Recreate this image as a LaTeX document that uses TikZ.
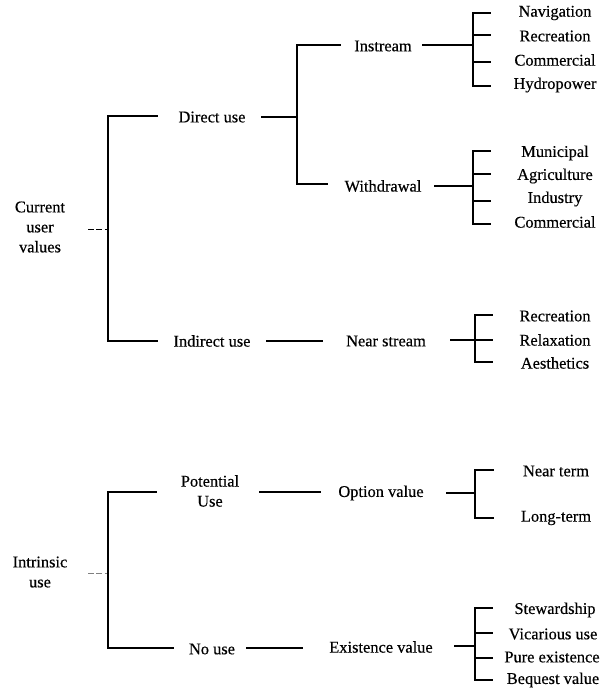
\documentclass[tikz,border=0pt]{standalone}
\usepackage{fontspec}
\setmainfont{Liberation Serif}[FakeBold=0.4]
\begin{document}
\begin{tikzpicture}[x=0.5pt,y=-0.5pt,
  lbl/.style={font=\fontsize{8.2}{10}\selectfont, align=center, inner sep=0pt},
  br/.style={line width=0.9pt, line cap=rect},
  rootline/.style={line width=0.4pt, dash pattern=on 3pt off 1.2pt}]
\useasboundingbox (0,0) rectangle (600,691);

% ---------------- upper tree ----------------
\node[lbl] (cuv) at (40,227) {Current\\user\\values};
\node[lbl] (direct) at (212,117) {Direct use};
\node[lbl] (indirect) at (212,341) {Indirect use};
\node[lbl] (instream) at (383,46) {Instream};
\node[lbl] (withdrawal) at (383,186) {Withdrawal};
\node[lbl] (nearstream) at (386,341) {Near stream};

\node[lbl] (l1) at (555,13) {Navigation};
\node[lbl] (l2) at (555,36) {Recreation};
\node[lbl] (l3) at (555,60) {Commercial};
\node[lbl] (l4) at (555,85) {Hydropower};
\node[lbl] (l5) at (555,153) {Municipal};
\node[lbl] (l6) at (555,176) {Agriculture};
\node[lbl] (l7) at (555,199) {Industry};
\node[lbl] (l8) at (555,222) {Commercial};
\node[lbl] (l9) at (555,316) {Recreation};
\node[lbl] (l10) at (555,340) {Relaxation};
\node[lbl] (l11) at (555,363) {Aesthetics};

% root connector
\coordinate (r1a) at (88,229);
\coordinate (r1b) at (108,229);
\draw[rootline] (r1a) -- (r1b);
% first bracket
\coordinate (c1t) at (108,116);
\coordinate (c1b) at (108,341);
\coordinate (d0) at (157,116);
\coordinate (i0) at (157,341);
\draw[br] (d0) -- (c1t) -- (c1b) -- (i0);
% direct use bracket
\coordinate (d1) at (262,117);
\coordinate (c2m) at (297,117);
\coordinate (c2t) at (297,45);
\coordinate (c2b) at (297,184);
\coordinate (in0) at (340,45);
\coordinate (w0) at (327,184);
\draw[br] (d1) -- (c2m);
\draw[br] (in0) -- (c2t) -- (c2b) -- (w0);
% instream bracket
\coordinate (in1) at (423,45);
\coordinate (c3m) at (473,45);
\coordinate (c3a) at (473,13);
\coordinate (c3d) at (473,86);
\coordinate (t1) at (490,13);
\coordinate (t2) at (490,35);
\coordinate (t3) at (490,62);
\coordinate (t4) at (490,86);
\coordinate (c3b) at (473,35);
\coordinate (c3c) at (473,62);
\draw[br] (in1) -- (c3m);
\draw[br] (t1) -- (c3a) -- (c3d) -- (t4);
\draw[br] (c3b) -- (t2);
\draw[br] (c3c) -- (t3);
% withdrawal bracket
\coordinate (w1) at (435,186);
\coordinate (c4m) at (473,186);
\coordinate (c4a) at (473,151);
\coordinate (c4b) at (473,174);
\coordinate (c4c) at (473,201);
\coordinate (c4d) at (473,224);
\coordinate (t5) at (490,151);
\coordinate (t6) at (490,174);
\coordinate (t7) at (490,201);
\coordinate (t8) at (490,224);
\draw[br] (w1) -- (c4m);
\draw[br] (t5) -- (c4a) -- (c4d) -- (t8);
\draw[br] (c4b) -- (t6);
\draw[br] (c4c) -- (t7);
% indirect / near stream
\coordinate (id1) at (267,341);
\coordinate (ns0) at (322,341);
\coordinate (ns1) at (451,340);
\coordinate (c5m) at (475,340);
\coordinate (c5a) at (475,315);
\coordinate (c5c) at (475,362);
\coordinate (t9) at (492,315);
\coordinate (t10) at (492,340);
\coordinate (t11) at (492,362);
\draw[br] (id1) -- (ns0);
\draw[br] (ns1) -- (c5m) -- (t10);
\draw[br] (t9) -- (c5a) -- (c5c) -- (t11);

% ---------------- lower tree ----------------
\node[lbl] (intr) at (40,572) {Intrinsic\\use};
\node[lbl] (pot) at (210,491) {Potential\\Use};
\node[lbl] (nouse) at (212,649) {No use};
\node[lbl] (option) at (381,493) {Option value};
\node[lbl] (exist) at (381,647) {Existence value};
\node[lbl] (m1) at (556,471) {Near term};
\node[lbl] (m2) at (556,518) {Long-term};
\node[lbl] (m3) at (555,610) {Stewardship};
\node[lbl] (m4) at (553,634) {Vicarious use};
\node[lbl] (m5) at (552,657) {Pure existence};
\node[lbl] (m6) at (553,680) {Bequest value};

\coordinate (r2a) at (88,573);
\coordinate (r2b) at (108,573);
\draw[rootline, gray] (r2a) -- (r2b);
\coordinate (c6t) at (108,492);
\coordinate (c6b) at (108,648);
\coordinate (p0) at (156,492);
\coordinate (n0) at (173,648);
\draw[br] (p0) -- (c6t) -- (c6b) -- (n0);
% potential -> option
\coordinate (p1) at (260,492);
\coordinate (o0) at (320,492);
\draw[br] (p1) -- (o0);
\coordinate (o1) at (447,493);
\coordinate (c7m) at (475,493);
\coordinate (c7a) at (475,470);
\coordinate (c7b) at (475,518);
\coordinate (u1) at (493,470);
\coordinate (u2) at (493,518);
\draw[br] (o1) -- (c7m);
\draw[br] (u1) -- (c7a) -- (c7b) -- (u2);
% no use -> existence
\coordinate (n1) at (247,648);
\coordinate (e0) at (302,648);
\draw[br] (n1) -- (e0);
\coordinate (e1) at (455,646);
\coordinate (c8m) at (475,646);
\coordinate (c8a) at (475,608);
\coordinate (c8b) at (475,633);
\coordinate (c8c) at (475,658);
\coordinate (c8d) at (475,680);
\coordinate (u3) at (492,608);
\coordinate (u4) at (492,633);
\coordinate (u5) at (492,658);
\coordinate (u6) at (492,680);
\draw[br] (e1) -- (c8m);
\draw[br] (u3) -- (c8a) -- (c8d) -- (u6);
\draw[br] (c8b) -- (u4);
\draw[br] (c8c) -- (u5);
\end{tikzpicture}
\end{document}
